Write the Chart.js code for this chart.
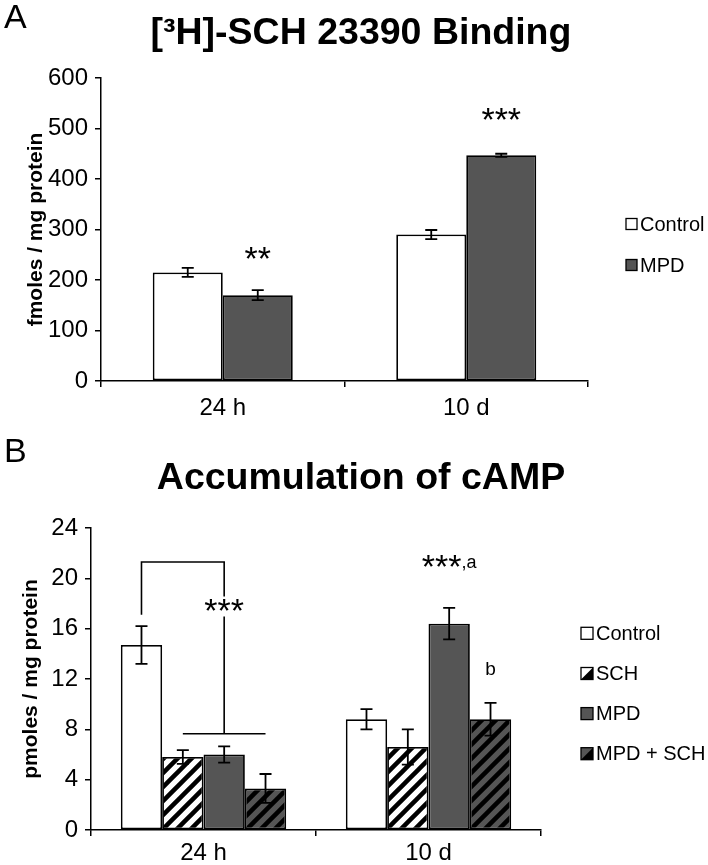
<!DOCTYPE html>
<html>
<head>
<meta charset="utf-8">
<script src="https://cdn.jsdelivr.net/npm/chart.js@4.4.1/dist/chart.umd.min.js"></script>
<style>
  html, body { margin: 0; padding: 0; background: #fff; overflow: hidden; }
  #wrapA { position: absolute; left: 0; top: 0; width: 708px; height: 432px; }
  #wrapB { position: absolute; left: 0; top: 432px; width: 708px; height: 433px; }
</style>
</head>
<body>
<div id="wrapA"><canvas id="chartA"></canvas></div>
<div id="wrapB"><canvas id="chartB"></canvas></div>
<script>
// shared categories
const timepoints = ['24 h', '10 d']

// panel A - [3H]-SCH 23390 binding (fmoles / mg protein)
const bindControl = [215, 290]
const bindControlErr = [9, 9]
const bindMPD = [170, 447]
const bindMPDErr = [10, 3]
const bindTicks = { min: 0, max: 600, step: 100 }

// panel B - accumulation of cAMP (pmoles / mg protein)
const campControl = [14.7, 8.8]
const campControlErr = [1.5, 0.8]
const campSCH = [5.8, 6.6]
const campSCHErr = [0.55, 1.4]
const campMPD = [6.0, 16.4]
const campMPDErr = [0.65, 1.25]
const campMPDSCH = [3.3, 8.8]
const campMPDSCHErr = [1.15, 1.3]
const campTicks = { min: 0, max: 24, step: 4 }

const FONT = "'Liberation Sans', Arial, Helvetica, sans-serif"
const DARK = '#555555'

Chart.defaults.font.family = FONT
Chart.defaults.color = '#000'

function stripes(bg) {
  const c = document.createElement('canvas')
  c.width = 14; c.height = 14
  const x = c.getContext('2d')
  x.fillStyle = bg
  x.fillRect(0, 0, 14, 14)
  x.strokeStyle = '#000'
  x.lineWidth = 4.5
  x.beginPath()
  x.moveTo(-4, 18); x.lineTo(18, -4)
  x.moveTo(-4, 4); x.lineTo(4, -4)
  x.moveTo(10, 18); x.lineTo(18, 10)
  x.stroke()
  return x.createPattern(c, 'repeat')
}

// error bars from dataset.errors
const errorBars = {
  id: 'errorBars',
  afterDatasetsDraw(chart) {
    const { ctx } = chart
    const y = chart.scales.y
    ctx.save()
    ctx.strokeStyle = '#000'
    ctx.lineWidth = 1.8
    chart.data.datasets.forEach((ds, i) => {
      chart.getDatasetMeta(i).data.forEach((bar, j) => {
        const v = ds.data[j], e = ds.errors[j]
        const t = y.getPixelForValue(v + e), b = y.getPixelForValue(v - e)
        ctx.beginPath()
        ctx.moveTo(bar.x, t); ctx.lineTo(bar.x, b)
        ctx.moveTo(bar.x - 6, t); ctx.lineTo(bar.x + 6, t)
        ctx.moveTo(bar.x - 6, b); ctx.lineTo(bar.x + 6, b)
        ctx.stroke()
      })
    })
    ctx.restore()
  }
}

// panel letter, title, legend and significance marks
const decor = {
  id: 'decor',
  afterDraw(chart, args, o) {
    const { ctx } = chart
    const y = chart.scales.y
    const barX = (d, i) => chart.getDatasetMeta(d).data[i].x
    ctx.save()
    ctx.fillStyle = '#000'
    ctx.textBaseline = 'alphabetic'

    ctx.font = `34px ${FONT}`
    ctx.textAlign = 'left'
    ctx.fillText(o.letter, 4, o.letterY)

    ctx.font = `bold 37.5px ${FONT}`
    ctx.textAlign = 'center'
    ctx.fillText(o.title, 361, o.titleY)

    // legend
    ctx.font = `20px ${FONT}`
    ctx.textAlign = 'left'
    chart.data.datasets.forEach((ds, i) => {
      const cy = o.legend.rows[i], s = o.legend.box, bx = o.legend.x
      const top = cy - s / 2
      ctx.fillStyle = ds.baseColor
      ctx.fillRect(bx, top, s, s)
      if (ds.hatched) {
        ctx.fillStyle = '#000'
        ctx.beginPath()
        ctx.moveTo(bx + s, top); ctx.lineTo(bx + s, top + s); ctx.lineTo(bx, top + s)
        ctx.closePath(); ctx.fill()
      }
      ctx.strokeStyle = '#000'
      ctx.lineWidth = 1.3
      ctx.strokeRect(bx, top, s, s)
      ctx.fillStyle = '#000'
      ctx.textBaseline = 'middle'
      ctx.fillText(ds.label, bx + s + 3, cy + 1)
    })

    // star marks
    ctx.textBaseline = 'alphabetic'
    ;(o.stars || []).forEach(m => {
      const cx = barX(m.ds, m.idx)
      const cy = y.getPixelForValue(m.value)
      ctx.font = `34px ${FONT}`
      const w1 = ctx.measureText(m.text).width
      let w2 = 0
      if (m.sup) { ctx.font = `18px ${FONT}`; w2 = ctx.measureText(m.sup).width }
      const left = cx - (w1 + w2) / 2
      ctx.textAlign = 'left'
      ctx.font = `34px ${FONT}`
      ctx.fillText(m.text, left, cy + 15)
      if (m.sup) {
        ctx.font = `18px ${FONT}`
        ctx.fillText(m.sup, left + w1, cy + 5)
      }
    })
    ;(o.letters || []).forEach(m => {
      ctx.font = `19px ${FONT}`
      ctx.textAlign = 'center'
      ctx.fillText(m.text, barX(m.ds, m.idx), y.getPixelForValue(m.value) + 7)
    })

    // bracket lines
    if (o.bracket) {
      const b = o.bracket
      ctx.strokeStyle = '#000'
      ctx.lineWidth = 1.6
      const xl = barX(b.from.ds, b.from.idx)
      const xr = barX(b.to.ds, b.to.idx)
      const yp = v => y.getPixelForValue(v)
      ctx.beginPath()
      ctx.moveTo(xl, yp(b.leftLow)); ctx.lineTo(xl, yp(b.top)); ctx.lineTo(xr, yp(b.top))
      ctx.lineTo(xr, yp(b.gap[0]))
      ctx.moveTo(xr, yp(b.gap[1])); ctx.lineTo(xr, yp(b.bar))
      ctx.moveTo(barX(b.barFrom.ds, b.barFrom.idx), yp(b.bar))
      ctx.lineTo(barX(b.barTo.ds, b.barTo.idx), yp(b.bar))
      ctx.stroke()
    }
    ctx.restore()
  }
}

function axes(ticks, yTitle, yWidth, titlePad, xHeight, xPad) {
  return {
    x: {
      grid: { display: true, offset: true, drawOnChartArea: false, drawTicks: true, tickLength: 6, color: '#000', lineWidth: 1.5 },
      border: { display: true, color: '#000', width: 1.5 },
      ticks: { font: { size: 24 }, color: '#000', padding: xPad },
      afterFit(s) { s.height = xHeight }
    },
    y: {
      min: ticks.min, max: ticks.max,
      grid: { display: true, drawOnChartArea: false, drawTicks: true, tickLength: 6, color: '#000', lineWidth: 1.5 },
      border: { display: true, color: '#000', width: 1.5 },
      ticks: { stepSize: ticks.step, font: { size: 24 }, color: '#000', padding: 7 },
      title: { display: true, text: yTitle, font: { size: 21, weight: 'bold' }, color: '#000', padding: { top: titlePad, bottom: 0 } },
      afterFit(s) { s.width = yWidth }
    }
  }
}

const barCommon = { borderColor: '#000', borderWidth: 1.8, borderSkipped: false, barPercentage: 1 }

new Chart(document.getElementById('chartA'), {
  type: 'bar',
  data: {
    labels: timepoints,
    datasets: [
      { label: 'Control', data: bindControl, errors: bindControlErr, backgroundColor: '#fff', baseColor: '#fff', categoryPercentage: 0.575, ...barCommon },
      { label: 'MPD', data: bindMPD, errors: bindMPDErr, backgroundColor: DARK, baseColor: DARK, categoryPercentage: 0.575, ...barCommon }
    ]
  },
  options: {
    responsive: true,
    maintainAspectRatio: false,
    animation: false,
    layout: { padding: { left: 0, right: 120, top: 78, bottom: 11 } },
    plugins: {
      legend: { display: false },
      tooltip: { enabled: false },
      decor: {
        letter: 'A', letterY: 28,
        title: '[\u00B3H]-SCH 23390 Binding', titleY: 44,
        legend: { x: 626, box: 11, rows: [224, 265] },
        stars: [
          { ds: 1, idx: 0, value: 249.5, text: '**' },
          { ds: 1, idx: 1, value: 524.7, text: '***' }
        ]
      }
    },
    scales: axes(bindTicks, 'fmoles / mg protein', 101, 24, 40, 7)
  },
  plugins: [errorBars, decor]
})

new Chart(document.getElementById('chartB'), {
  type: 'bar',
  data: {
    labels: timepoints,
    datasets: [
      { label: 'Control', data: campControl, errors: campControlErr, backgroundColor: '#fff', baseColor: '#fff', categoryPercentage: 0.735, ...barCommon },
      { label: 'SCH', data: campSCH, errors: campSCHErr, backgroundColor: stripes('#fff'), baseColor: '#fff', hatched: true, categoryPercentage: 0.735, ...barCommon },
      { label: 'MPD', data: campMPD, errors: campMPDErr, backgroundColor: DARK, baseColor: DARK, categoryPercentage: 0.735, ...barCommon },
      { label: 'MPD + SCH', data: campMPDSCH, errors: campMPDSCHErr, backgroundColor: stripes(DARK), baseColor: DARK, hatched: true, categoryPercentage: 0.735, ...barCommon }
    ]
  },
  options: {
    responsive: true,
    maintainAspectRatio: false,
    animation: false,
    layout: { padding: { left: 0, right: 167, top: 96, bottom: 5 } },
    plugins: {
      legend: { display: false },
      tooltip: { enabled: false },
      decor: {
        letter: 'B', letterY: 30,
        title: 'Accumulation of cAMP', titleY: 57,
        legend: { x: 581, box: 12, rows: [201.3, 241.5, 281.6, 321.7] },
        stars: [
          { ds: 2, idx: 0, value: 17.7, text: '***' },
          { ds: 2, idx: 1, value: 21.2, text: '***', sup: ',a' }
        ],
        letters: [{ ds: 3, idx: 1, value: 12.9, text: 'b' }],
        bracket: {
          from: { ds: 0, idx: 0 }, to: { ds: 2, idx: 0 },
          leftLow: 17.1, top: 21.3, gap: [18.55, 16.96], bar: 7.65,
          barFrom: { ds: 1, idx: 0 }, barTo: { ds: 3, idx: 0 }
        }
      }
    },
    scales: axes(campTicks, 'pmoles / mg protein', 91, 19, 30, 3)
  },
  plugins: [errorBars, decor]
})
</script>
</body>
</html>
